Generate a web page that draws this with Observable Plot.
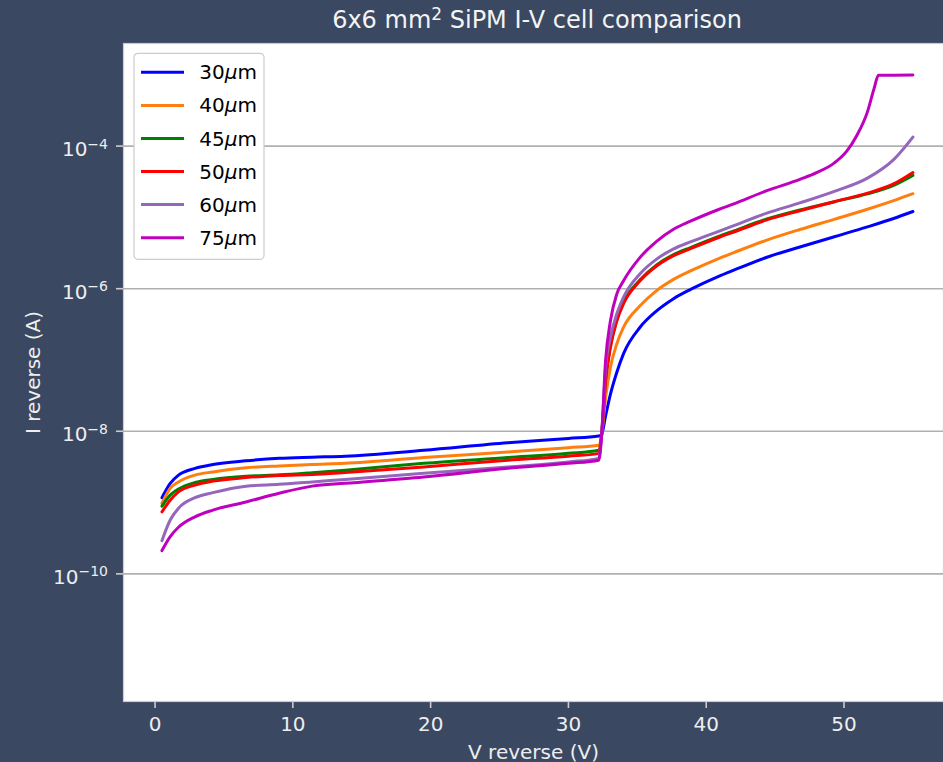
<!DOCTYPE html>
<html><head><meta charset="utf-8">
<script src="https://cdn.jsdelivr.net/npm/d3@7"></script>
<script src="https://cdn.jsdelivr.net/npm/@observablehq/plot@0.6"></script>
<style>
html,body{margin:0;padding:0;background:#3a4862;}
#wrap{position:relative;width:943px;height:762px;overflow:hidden;font-family:"DejaVu Sans";}
#title{position:absolute;left:123px;width:828px;top:8px;text-align:center;color:#f4f4f4;font-size:24px;line-height:1;white-space:nowrap;}
#title .sup{font-size:17px;position:relative;top:-8px;}
#chart{position:absolute;left:0;top:38px;}
#legend{position:absolute;left:133px;top:52px;}
</style></head><body>
<div id="wrap">
<div id="title">6x6 mm<span class="sup">2</span> SiPM I-V cell comparison</div>
<div id="chart"></div>
<svg id="legend" width="134" height="210"></svg>
</div>
<script>
// ---- data ----
const cellSizes = [30, 40, 45, 50, 60, 75];
const colors = ["#0000ff", "#ff7f0e", "#008000", "#ff0000", "#9467bd", "#bf00bf"];
const voltage = [0.5, 1.1, 1.7, 2.9, 4.2, 6.6, 9.0, 11.4, 13.8, 19.5, 25.6, 30.0, 32.2, 32.4, 32.7, 33.05, 33.5, 34.0, 35.2, 36.4, 37.6, 38.9, 40.9, 42.0, 44.4, 46.8, 49.3, 51.7, 53.6, 55.0];
const voltage75 = [0.5, 1.1, 1.7, 2.9, 4.2, 6.6, 9.0, 11.4, 13.8, 19.5, 25.6, 30.0, 32.2, 32.4, 32.7, 33.05, 33.5, 34.0, 35.2, 36.4, 37.6, 38.9, 40.9, 42.0, 44.4, 46.8, 48.05, 49.3, 50.2, 50.93, 51.7, 52.17, 52.5, 53.6, 55.0];
const i30 = [1.17e-9, 1.86e-9, 2.43e-9, 3.02e-9, 3.42e-9, 3.85e-9, 4.17e-9, 4.33e-9, 4.47e-9, 5.42e-9, 6.92e-9, 7.94e-9, 8.59e-9, 8.91e-9, 1.66e-8, 3.31e-8, 6.61e-8, 1.23e-7, 2.88e-7, 4.88e-7, 7.18e-7, 9.84e-7, 1.49e-6, 1.82e-6, 2.76e-6, 3.85e-6, 5.35e-6, 7.36e-6, 9.66e-6, 1.21e-5];
const i40 = [9.77e-10, 1.58e-9, 1.95e-9, 2.43e-9, 2.69e-9, 3.07e-9, 3.27e-9, 3.42e-9, 3.55e-9, 4.27e-9, 5.13e-9, 5.89e-9, 6.37e-9, 8.71e-9, 3.02e-8, 7.94e-8, 1.66e-7, 2.88e-7, 5.75e-7, 9.40e-7, 1.34e-6, 1.79e-6, 2.65e-6, 3.21e-6, 4.80e-6, 6.76e-6, 9.40e-6, 1.30e-5, 1.72e-5, 2.15e-5];
const i45 = [8.91e-10, 1.27e-9, 1.55e-9, 1.91e-9, 2.11e-9, 2.34e-9, 2.45e-9, 2.63e-9, 2.85e-9, 3.55e-9, 4.27e-9, 4.90e-9, 5.42e-9, 8.71e-9, 5.37e-8, 1.58e-7, 3.63e-7, 6.46e-7, 1.33e-6, 2.16e-6, 2.99e-6, 3.80e-6, 5.40e-6, 6.46e-6, 9.51e-6, 1.27e-5, 1.66e-5, 2.14e-5, 2.82e-5, 3.89e-5];
const i50 = [7.41e-10, 1.08e-9, 1.41e-9, 1.76e-9, 2.00e-9, 2.24e-9, 2.40e-9, 2.48e-9, 2.64e-9, 3.16e-9, 3.93e-9, 4.47e-9, 4.90e-9, 8.51e-9, 5.13e-8, 1.51e-7, 3.47e-7, 6.17e-7, 1.29e-6, 2.08e-6, 2.88e-6, 3.67e-6, 5.22e-6, 6.24e-6, 9.23e-6, 1.24e-5, 1.66e-5, 2.19e-5, 2.95e-5, 4.27e-5];
const i60 = [2.92e-10, 5.69e-10, 8.32e-10, 1.17e-9, 1.38e-9, 1.70e-9, 1.80e-9, 1.95e-9, 2.11e-9, 2.57e-9, 3.16e-9, 3.72e-9, 4.17e-9, 8.32e-9, 7.94e-8, 2.09e-7, 4.37e-7, 7.59e-7, 1.62e-6, 2.60e-6, 3.59e-6, 4.57e-6, 6.38e-6, 7.67e-6, 1.15e-5, 1.60e-5, 2.32e-5, 3.55e-5, 6.46e-5, 1.34e-4];
const i75 = [2.12e-10, 3.33e-10, 4.50e-10, 6.31e-10, 7.85e-10, 1.02e-9, 1.35e-9, 1.70e-9, 1.86e-9, 2.29e-9, 3.02e-9, 3.55e-9, 3.93e-9, 8.32e-9, 1.00e-7, 3.55e-7, 8.32e-7, 1.29e-6, 2.75e-6, 4.62e-6, 6.76e-6, 8.91e-6, 1.29e-5, 1.55e-5, 2.37e-5, 3.42e-5, 4.27e-5, 5.82e-5, 8.51e-5, 1.41e-4, 3.02e-4, 6.31e-4, 9.84e-4, 9.89e-4, 9.91e-4];
const xTicks = [0, 10, 20, 30, 40, 50];
const yTicks = [1e-4, 1e-6, 1e-8, 1e-10];
const yTickExponents = ["−4", "−6", "−8", "−10"];

// ---- build table ----
const currents = [i30, i40, i45, i50, i60, i75];
const voltages = [voltage, voltage, voltage, voltage, voltage, voltage75];
const rows = [];
cellSizes.forEach((c, k) => currents[k].forEach((iv, j) => rows.push({cell: c, v: voltages[k][j], i: iv})));

const axisStyle = {tickSize: 7, tickPadding: 8.5, stroke: "#cccccc", strokeWidth: 1.6, fill: "#eeeeee"};
const chart = Plot.plot({
  width: 943, height: 724,
  marginTop: 5, marginRight: 0, marginBottom: 61, marginLeft: 123,
  style: {background: "transparent", fontFamily: "DejaVu Sans", fontSize: "20px", color: "#eeeeee", overflow: "visible"},
  x: {domain: [-2.29, 57.22]},
  y: {type: "log", domain: [1.62e-12, 2.75e-3]},
  color: {domain: cellSizes, range: colors},
  marks: [
    Plot.frame({fill: "white", stroke: "#cccccc", strokeWidth: 1.2}),
    Plot.gridY(yTicks, {stroke: "#b0b0b0", strokeOpacity: 1, strokeWidth: 1.6}),
    Plot.line(rows, {x: "v", y: "i", z: "cell", stroke: "cell", strokeWidth: 3, curve: "monotone-x"}),
    Plot.axisX(xTicks, {...axisStyle, tickFormat: d => String(d), label: "V reverse (V)", labelAnchor: "center", labelOffset: 57, labelArrow: "none"}),
    Plot.axisY(yTicks, {...axisStyle, tickFormat: d => "10^" + yTickExponents[yTicks.indexOf(d)], label: "I reverse (A)", labelAnchor: "center", labelOffset: 98, labelArrow: "none"})
  ]
});
document.getElementById("chart").appendChild(chart);

// mathtext-like exponents on the y tick labels
d3.select(chart).selectAll('[aria-label="y-axis tick label"] text').each(function() {
  const parts = this.textContent.split("^");
  const s = d3.select(this);
  s.text(null).attr("dy", null).attr("y", "0.5em");
  s.append("tspan").text(parts[0]);
  s.append("tspan").attr("dy", -7.6).attr("font-size", "14px").text(parts[1]);
});

// legend (matplotlib style box)
const lg = d3.select("#legend");
lg.append("rect").attr("x", 1).attr("y", 1.3).attr("width", 130).attr("height", 206).attr("rx", 4)
  .attr("fill", "white").attr("stroke", "#cccccc").attr("stroke-width", 1.2);
cellSizes.forEach((c, k) => {
  const cy = 20.3 + 33.08 * k;
  lg.append("line").attr("x1", 8).attr("x2", 51).attr("y1", cy).attr("y2", cy)
    .attr("stroke", colors[k]).attr("stroke-width", 3);
  const t = lg.append("text").attr("x", 66.3).attr("y", cy + 7.1)
    .attr("font-family", "DejaVu Sans").attr("font-size", 20).attr("fill", "#000");
  t.append("tspan").text(String(c));
  t.append("tspan").attr("font-style", "italic").text("μ");
  t.append("tspan").text("m");
});
</script>
</body></html>
